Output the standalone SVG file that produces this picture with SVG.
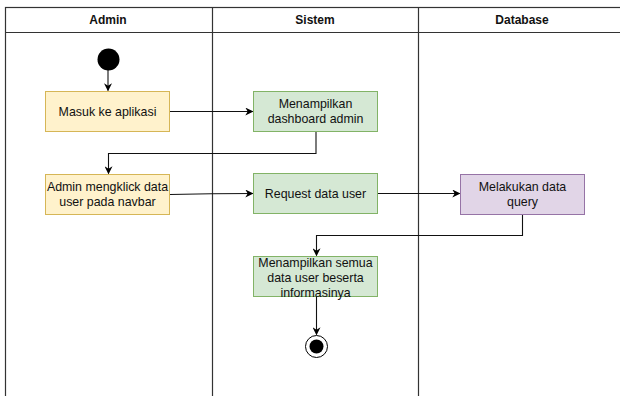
<svg xmlns="http://www.w3.org/2000/svg" width="620" height="396" viewBox="0 0 620 396">
  <defs>
    <marker id="arrow" viewBox="0 0 10 10" refX="9" refY="5" markerWidth="8" markerHeight="8" markerUnits="userSpaceOnUse" orient="auto">
      <path d="M0,0 L10,5 L0,10 L3,5 Z" fill="#000"/>
    </marker>
  </defs>
  <style>
    text { font-family: "Liberation Sans", Arial, sans-serif; font-size: 12.4px; fill: #111; text-anchor: middle; }
    .hdr { font-weight: bold; font-size: 12px; }
    .lane { fill: none; stroke: #333; stroke-width: 1.2; }
    .admin { fill: #fff2cc; stroke: #d6b656; }
    .sys { fill: #d5e8d4; stroke: #82b366; }
    .db { fill: #e1d5e7; stroke: #9673a6; }
    .edge { fill: none; stroke: #111; stroke-width: 1.1; marker-end: url(#arrow); }
  </style>
  <rect width="620" height="396" fill="#fff"/>

  <!-- swimlanes -->
  <g id="lanes">
    <rect class="lane" x="5.5" y="7.5" width="620" height="400"/>
    <line class="lane" x1="5.5" y1="32.5" x2="620" y2="32.5"/>
    <line class="lane" x1="212.5" y1="7.5" x2="212.5" y2="396"/>
    <line class="lane" x1="418.5" y1="7.5" x2="418.5" y2="396"/>
    <text class="hdr" x="108" y="24">Admin</text>
    <text class="hdr" x="315" y="24">Sistem</text>
    <text class="hdr" x="522" y="24">Database</text>
  </g>

  <!-- connectors -->
  <g id="connectors">
    <path class="edge" d="M108,70 V90.5"/>
    <path class="edge" d="M170,111.5 H252.5"/>
    <path class="edge" d="M316,131 V153.5 H108.5 V173.5"/>
    <path class="edge" d="M170,194.5 Q211,193.5 252.5,193.5"/>
    <path class="edge" d="M378,193.5 H459.5"/>
    <path class="edge" d="M522.5,215 V235.5 H316.5 V255.5"/>
    <path class="edge" d="M316.5,297 V334.5"/>
  </g>

  <g id="start">
    <circle cx="108.5" cy="59.5" r="11" fill="#000"/>
  </g>

  <g id="masuk">
    <rect class="admin" x="45.5" y="91.5" width="124" height="40"/>
    <text x="107.5" y="115.5">Masuk ke aplikasi</text>
  </g>

  <g id="dashboard">
    <rect class="sys" x="253.5" y="91.5" width="124" height="40"/>
    <text x="315.5" y="108">Menampilkan</text>
    <text x="315.5" y="123">dashboard admin</text>
  </g>

  <g id="klik">
    <rect class="admin" x="45.5" y="174.5" width="124" height="40"/>
    <text x="107.5" y="191">Admin mengklick data</text>
    <text x="107.5" y="206">user pada navbar</text>
  </g>

  <g id="request">
    <rect class="sys" x="253.5" y="173.5" width="124" height="40"/>
    <text x="315.5" y="197.5">Request data user</text>
  </g>

  <g id="query">
    <rect class="db" x="460.5" y="174.5" width="124" height="40"/>
    <text x="522.5" y="191">Melakukan data</text>
    <text x="522.5" y="206">query</text>
  </g>

  <g id="tampil">
    <rect class="sys" x="253.5" y="256.5" width="124" height="40"/>
    <text x="315.5" y="267">Menampilkan semua</text>
    <text x="315.5" y="282">data user beserta</text>
    <text x="315.5" y="297">informasinya</text>
  </g>

  <g id="end">
    <circle cx="316.5" cy="346.5" r="11" fill="#fff" stroke="#000" stroke-width="1"/>
    <circle cx="316.5" cy="346.5" r="7" fill="#000"/>
  </g>
</svg>
